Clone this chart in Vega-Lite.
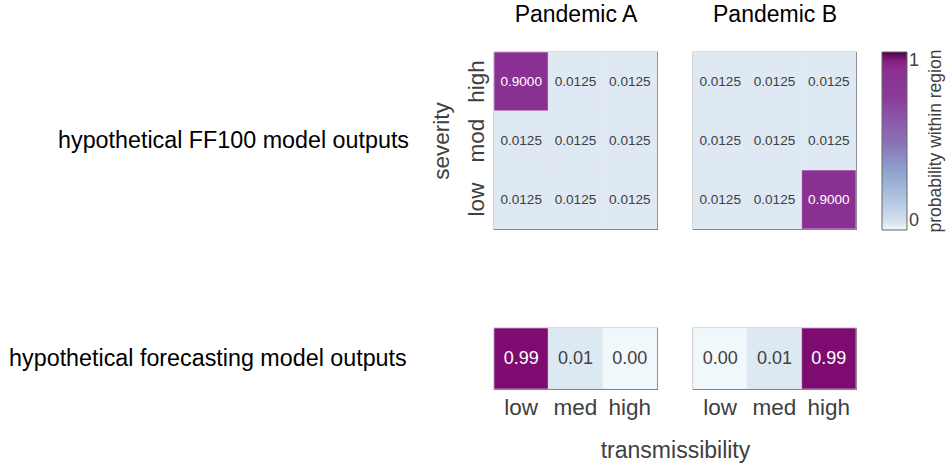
{
  "$schema": "https://vega.github.io/schema/vega-lite/v6.json",
  "background": "white",
  "padding": {"left": 8, "top": 2, "right": 2, "bottom": 2},
  "config": {
    "font": "Liberation Sans",
    "view": {"stroke": "#5f5f5f", "strokeWidth": 1.2},
    "legend": {
      "gradientLength": 178,
      "gradientThickness": 25,
      "gradientStrokeColor": "#666666",
      "gradientStrokeWidth": 1,
      "labelFontSize": 18,
      "labelColor": "#404040",
      "titleFontSize": 17.5,
      "titleFontWeight": "normal",
      "titleColor": "#404040",
      "titleLimit": 300
    }
  },
  "datasets": {
    "cells": [
      {"model": "FF100", "pandemic": "A", "sev": "high", "trans": "low", "p": 0.9},
      {"model": "FF100", "pandemic": "A", "sev": "high", "trans": "med", "p": 0.0125},
      {"model": "FF100", "pandemic": "A", "sev": "high", "trans": "high", "p": 0.0125},
      {"model": "FF100", "pandemic": "A", "sev": "mod", "trans": "low", "p": 0.0125},
      {"model": "FF100", "pandemic": "A", "sev": "mod", "trans": "med", "p": 0.0125},
      {"model": "FF100", "pandemic": "A", "sev": "mod", "trans": "high", "p": 0.0125},
      {"model": "FF100", "pandemic": "A", "sev": "low", "trans": "low", "p": 0.0125},
      {"model": "FF100", "pandemic": "A", "sev": "low", "trans": "med", "p": 0.0125},
      {"model": "FF100", "pandemic": "A", "sev": "low", "trans": "high", "p": 0.0125},
      {"model": "FF100", "pandemic": "B", "sev": "high", "trans": "low", "p": 0.0125},
      {"model": "FF100", "pandemic": "B", "sev": "high", "trans": "med", "p": 0.0125},
      {"model": "FF100", "pandemic": "B", "sev": "high", "trans": "high", "p": 0.0125},
      {"model": "FF100", "pandemic": "B", "sev": "mod", "trans": "low", "p": 0.0125},
      {"model": "FF100", "pandemic": "B", "sev": "mod", "trans": "med", "p": 0.0125},
      {"model": "FF100", "pandemic": "B", "sev": "mod", "trans": "high", "p": 0.0125},
      {"model": "FF100", "pandemic": "B", "sev": "low", "trans": "low", "p": 0.0125},
      {"model": "FF100", "pandemic": "B", "sev": "low", "trans": "med", "p": 0.0125},
      {"model": "FF100", "pandemic": "B", "sev": "low", "trans": "high", "p": 0.9},
      {"model": "forecast", "pandemic": "A", "trans": "low", "p": 0.99},
      {"model": "forecast", "pandemic": "A", "trans": "med", "p": 0.01},
      {"model": "forecast", "pandemic": "A", "trans": "high", "p": 0.0},
      {"model": "forecast", "pandemic": "B", "trans": "low", "p": 0.0},
      {"model": "forecast", "pandemic": "B", "trans": "med", "p": 0.01},
      {"model": "forecast", "pandemic": "B", "trans": "high", "p": 0.99}
    ]
  },
  "data": {"name": "cells"},
  "columns": 2,
  "bounds": "flush",
  "spacing": {"row": 99, "column": 36},
  "concat": [
    {
      "width": 163,
      "height": 177,
      "title": {"text": "hypothetical FF100 model outputs", "orient": "left", "angle": 0, "align": "left", "baseline": "middle", "anchor": "middle", "fontSize": 23.3, "fontWeight": "normal", "color": "black", "offset": 21},
      "transform": [{"filter": "datum.model === 'FF100' && datum.pandemic === 'A'"}],
      "encoding": {
        "x": {"field": "trans", "type": "nominal", "scale": {"domain": ["low", "med", "high"]},
              "axis": {"orient": "top", "labels": false, "ticks": false, "domain": false, "title": "Pandemic A", "titleFontSize": 23, "titleFontWeight": "normal", "titleColor": "black", "titlePadding": 26}},
        "y": {"field": "sev", "type": "nominal", "scale": {"domain": ["high", "mod", "low"]},
              "axis": {"labelAngle": -90, "labelAlign": "center", "labelBaseline": "bottom", "labelFontSize": 22.5, "labelColor": "#404040", "labelPadding": 6, "ticks": false, "domain": false, "title": "severity", "titleFontSize": 22.5, "titleFontWeight": "normal", "titleColor": "#404040", "titlePadding": 12}}
      },
      "layer": [
        {"mark": {"type": "rect", "stroke": "#e4e7eb", "strokeWidth": 0.6},
         "encoding": {"color": {"field": "p", "type": "quantitative",
           "scale": {"domain": [0, 0.01, 0.0125, 0.3, 0.5, 0.75, 0.9, 0.99, 1], "range": ["#f1f8fb", "#dde9f2", "#dee9f3", "#94a9d0", "#8c6fb3", "#8a3a9a", "#8a3093", "#7e0b6f", "#4d004b"]},
           "legend": {"title": "probability within region", "values": [0, 1], "format": "d", "direction": "vertical", "offset": 25, "titleOrient": "right", "titleAnchor": "middle", "titleBaseline": "top", "titlePadding": 8,
                      "encode": {"title": {"update": {"angle": {"value": 270}}}}}}}},
        {"mark": {"type": "text", "fontSize": 13.6},
         "encoding": {"text": {"field": "p", "type": "quantitative", "format": ".4f"},
                      "color": {"condition": {"test": "datum.p > 0.5", "value": "white"}, "value": "#404040"}}}
      ]
    },
    {
      "width": 163,
      "height": 177,
      "transform": [{"filter": "datum.model === 'FF100' && datum.pandemic === 'B'"}],
      "encoding": {
        "x": {"field": "trans", "type": "nominal", "scale": {"domain": ["low", "med", "high"]},
              "axis": {"orient": "top", "labels": false, "ticks": false, "domain": false, "title": "Pandemic B", "titleFontSize": 23, "titleFontWeight": "normal", "titleColor": "black", "titlePadding": 26}},
        "y": {"field": "sev", "type": "nominal", "scale": {"domain": ["high", "mod", "low"]}, "axis": null}
      },
      "layer": [
        {"mark": {"type": "rect", "stroke": "#e4e7eb", "strokeWidth": 0.6},
         "encoding": {"color": {"field": "p", "type": "quantitative"}}},
        {"mark": {"type": "text", "fontSize": 13.6},
         "encoding": {"text": {"field": "p", "type": "quantitative", "format": ".4f"},
                      "color": {"condition": {"test": "datum.p > 0.5", "value": "white"}, "value": "#404040"}}}
      ]
    },
    {
      "width": 163,
      "height": 61,
      "title": {"text": "hypothetical forecasting model outputs", "orient": "left", "angle": 0, "align": "left", "baseline": "middle", "anchor": "middle", "fontSize": 23.3, "fontWeight": "normal", "color": "black", "offset": 87},
      "transform": [{"filter": "datum.model === 'forecast' && datum.pandemic === 'A'"}],
      "encoding": {
        "x": {"field": "trans", "type": "nominal", "scale": {"domain": ["low", "med", "high"]},
              "axis": {"labelAngle": 0, "labelFontSize": 22.5, "labelColor": "#404040", "labelPadding": 7, "ticks": false, "domain": false, "title": "transmissibility", "titleX": 181, "titleAlign": "center", "titleFontSize": 23, "titleFontWeight": "normal", "titleColor": "#404040", "titlePadding": 21}}
      },
      "layer": [
        {"mark": {"type": "rect", "stroke": "#e4e7eb", "strokeWidth": 0.6},
         "encoding": {"color": {"field": "p", "type": "quantitative"}}},
        {"mark": {"type": "text", "fontSize": 18},
         "encoding": {"text": {"field": "p", "type": "quantitative", "format": ".2f"},
                      "color": {"condition": {"test": "datum.p > 0.5", "value": "white"}, "value": "#404040"}}}
      ]
    },
    {
      "width": 163,
      "height": 61,
      "transform": [{"filter": "datum.model === 'forecast' && datum.pandemic === 'B'"}],
      "encoding": {
        "x": {"field": "trans", "type": "nominal", "scale": {"domain": ["low", "med", "high"]},
              "axis": {"labelAngle": 0, "labelFontSize": 22.5, "labelColor": "#404040", "labelPadding": 7, "ticks": false, "domain": false, "title": null}}
      },
      "layer": [
        {"mark": {"type": "rect", "stroke": "#e4e7eb", "strokeWidth": 0.6},
         "encoding": {"color": {"field": "p", "type": "quantitative"}}},
        {"mark": {"type": "text", "fontSize": 18},
         "encoding": {"text": {"field": "p", "type": "quantitative", "format": ".2f"},
                      "color": {"condition": {"test": "datum.p > 0.5", "value": "white"}, "value": "#404040"}}}
      ]
    }
  ]
}
